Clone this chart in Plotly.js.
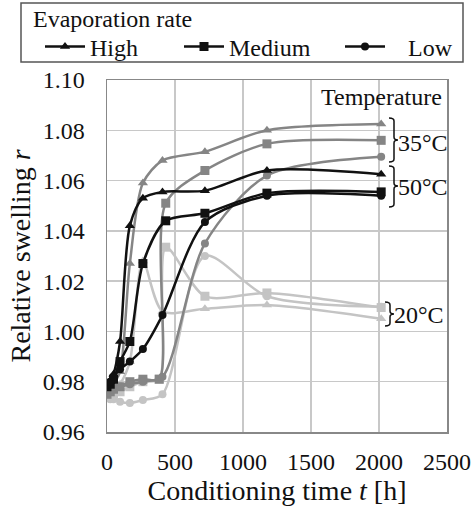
<!DOCTYPE html>
<html>
<head>
<meta charset="utf-8">
<script src="https://cdn.plot.ly/plotly-3.0.1.min.js"></script>
<style>html,body{margin:0;padding:0;background:#fff;}#chart{width:475px;height:509px;}</style>
</head>
<body>
<div id="chart"></div>
<script>
// Conditioning times [h]
var timeHigh   = [0, 24, 48, 96, 168, 264, 408, 720, 1176, 2016];
var timeMedium = [0, 24, 48, 96, 168, 264, 384, 432, 720, 1176, 2016];
var timeLow    = [0, 24, 48, 96, 168, 264, 408, 720, 1176, 2016];

// Relative swelling r
var high50   = [0.979, 0.980, 0.983, 0.996, 1.042, 1.053, 1.0555, 1.056, 1.064, 1.0625];
var medium50 = [0.978, 0.979, 0.981, 0.988, 0.996, 1.027, null, 1.044, 1.047, 1.055, 1.0555];
var low50    = [0.979, 0.980, 0.982, 0.985, 0.988, 0.993, 1.0065, 1.0435, 1.054, 1.054];

var high35   = [0.976, 0.977, 0.979, 0.984, 1.027, 1.059, 1.068, 1.0715, 1.080, 1.0825];
var medium35 = [0.975, 0.976, 0.977, 0.978, 0.980, 0.981, 0.981, 1.051, 1.064, 1.0746, 1.076];
var low35    = [0.977, 0.978, 0.978, 0.978, 0.979, 0.980, 0.982, 1.035, 1.062, 1.0695];

var high20   = [0.975, 0.975, 0.976, 0.979, 0.988, 1.028, 1.008, 1.009, 1.0105, 1.005];
var medium20 = [0.974, 0.974, 0.975, 0.976, 0.978, 0.980, 0.981, 1.0335, 1.014, 1.0153, 1.0095];
var low20    = [0.974, 0.973, 0.973, 0.972, 0.9715, 0.9727, 0.975, 1.030, 1.014, 1.0098];

var rateNames = ['High', 'Medium', 'Low'];
var tempLabels = ['35\u00B0C', '50\u00B0C', '20\u00B0C'];
var legendTitle = 'Evaporation rate';

var FONT = 'Liberation Serif';
var colors = {t50: '#111111', t35: '#858585', t20: '#c4c4c4'};
var symbols = {High: 'triangle-up', Medium: 'square', Low: 'circle'};
var legendWidths = {High: 84, Medium: 106, Low: 70};
var legendPad = {High: '', Medium: '', Low: '\u00A0\u00A0\u00A0'};

function series(x, y, rate, color, showlegend) {
  return {
    type: 'scatter', mode: 'lines+markers', x: x, y: y,
    name: legendPad[rate] + rate, showlegend: showlegend, connectgaps: true,
    legendwidth: legendWidths[rate],
    line: {color: color, width: 2.5, shape: 'spline', smoothing: 0.8},
    marker: {symbol: symbols[rate], size: rate === 'Low' ? 8 : 9, color: color}
  };
}

var traces = [
  series(timeHigh, high20, rateNames[0], colors.t20, false),
  series(timeMedium, medium20, rateNames[1], colors.t20, false),
  series(timeLow, low20, rateNames[2], colors.t20, false),
  series(timeHigh, high35, rateNames[0], colors.t35, false),
  series(timeMedium, medium35, rateNames[1], colors.t35, false),
  series(timeLow, low35, rateNames[2], colors.t35, false),
  series(timeHigh, high50, rateNames[0], colors.t50, true),
  series(timeMedium, medium50, rateNames[1], colors.t50, true),
  series(timeLow, low50, rateNames[2], colors.t50, true)
];

// pixel -> paper helpers (plot area 107..447 x 80..432)
function px(x) { return (x - 107) / 340; }
function py(y) { return (432 - y) / 352; }
function brace(x0, x1, ytop, ybot, ymid) {
  var r = 3, tip = x1 + 4;
  return 'M' + px(x0) + ',' + py(ytop) +
    ' Q' + px(x1) + ',' + py(ytop) + ' ' + px(x1) + ',' + py(ytop + r) +
    ' L' + px(x1) + ',' + py(ymid - r) +
    ' Q' + px(x1) + ',' + py(ymid) + ' ' + px(tip) + ',' + py(ymid) +
    ' Q' + px(x1) + ',' + py(ymid) + ' ' + px(x1) + ',' + py(ymid + r) +
    ' L' + px(x1) + ',' + py(ybot - r) +
    ' Q' + px(x1) + ',' + py(ybot) + ' ' + px(x0) + ',' + py(ybot);
}

var shapes = [
  {type: 'rect', xref: 'paper', yref: 'paper', x0: px(21), x1: px(463), y0: py(3), y1: py(62), line: {color: '#555', width: 1.5}, fillcolor: 'rgba(0,0,0,0)'},
  {type: 'path', xref: 'paper', yref: 'paper', path: brace(389, 394, 118, 162, 140), line: {color: '#111', width: 1.5}},
  {type: 'path', xref: 'paper', yref: 'paper', path: brace(389, 394, 166, 207, 186), line: {color: '#111', width: 1.5}},
  {type: 'path', xref: 'paper', yref: 'paper', path: brace(385, 390, 302, 326, 314), line: {color: '#111', width: 1.5}}
];

var annFont = {family: FONT, size: 24, color: '#111'};
var annotations = [
  {text: legendTitle, xref: 'paper', yref: 'paper', x: px(31), y: py(19), xanchor: 'left', yanchor: 'middle', showarrow: false, font: annFont},
  {text: 'Temperature', xref: 'paper', yref: 'paper', x: px(444), y: py(97), xanchor: 'right', yanchor: 'middle', showarrow: false, font: annFont},
  {text: tempLabels[0], xref: 'paper', yref: 'paper', x: px(396), y: py(143), xanchor: 'left', yanchor: 'middle', showarrow: false, font: annFont},
  {text: tempLabels[1], xref: 'paper', yref: 'paper', x: px(396), y: py(187), xanchor: 'left', yanchor: 'middle', showarrow: false, font: annFont},
  {text: tempLabels[2], xref: 'paper', yref: 'paper', x: px(392), y: py(315), xanchor: 'left', yanchor: 'middle', showarrow: false, font: annFont}
];

var layout = {
  width: 475, height: 509,
  margin: {l: 107, r: 28, t: 80, b: 77, pad: 0},
  paper_bgcolor: '#fff', plot_bgcolor: '#fff',
  font: {family: FONT, size: 24, color: '#111'},
  xaxis: {
    range: [0, 2500], dtick: 500, tick0: 0,
    showgrid: true, gridcolor: '#c8c8c8', gridwidth: 1.5,
    showline: true, linecolor: '#888', linewidth: 1.5, mirror: true,
    zeroline: false, ticks: 'outside', ticklen: 8, tickcolor: 'rgba(0,0,0,0)',
    tickfont: {family: FONT, size: 24, color: '#111'},
    title: {text: 'Conditioning time <i>t</i> [h]', font: {family: FONT, size: 28, color: '#111'}, standoff: 4}
  },
  yaxis: {
    range: [0.96, 1.10], dtick: 0.02, tick0: 0.96, tickformat: '.2f',
    showgrid: true, gridcolor: '#c8c8c8', gridwidth: 1.5,
    showline: true, linecolor: '#888', linewidth: 1.5, mirror: true,
    zeroline: false, ticks: 'outside', ticklen: 16, tickcolor: 'rgba(0,0,0,0)',
    tickfont: {family: FONT, size: 24, color: '#111'},
    title: {text: 'Relative swelling <i>r</i>', font: {family: FONT, size: 28, color: '#111'}, standoff: 4}
  },
  legend: {
    orientation: 'h', xref: 'paper', yref: 'paper',
    x: px(40), y: py(47), xanchor: 'left', yanchor: 'middle',
    bgcolor: 'rgba(0,0,0,0)', borderwidth: 0,
    font: {family: FONT, size: 24, color: '#111'},
    entrywidthmode: 'pixels', itemwidth: 40, tracegroupgap: 0
  },
  shapes: shapes,
  annotations: annotations
};

Plotly.newPlot('chart', traces, layout, {displayModeBar: false, staticPlot: true});
</script>
</body>
</html>
